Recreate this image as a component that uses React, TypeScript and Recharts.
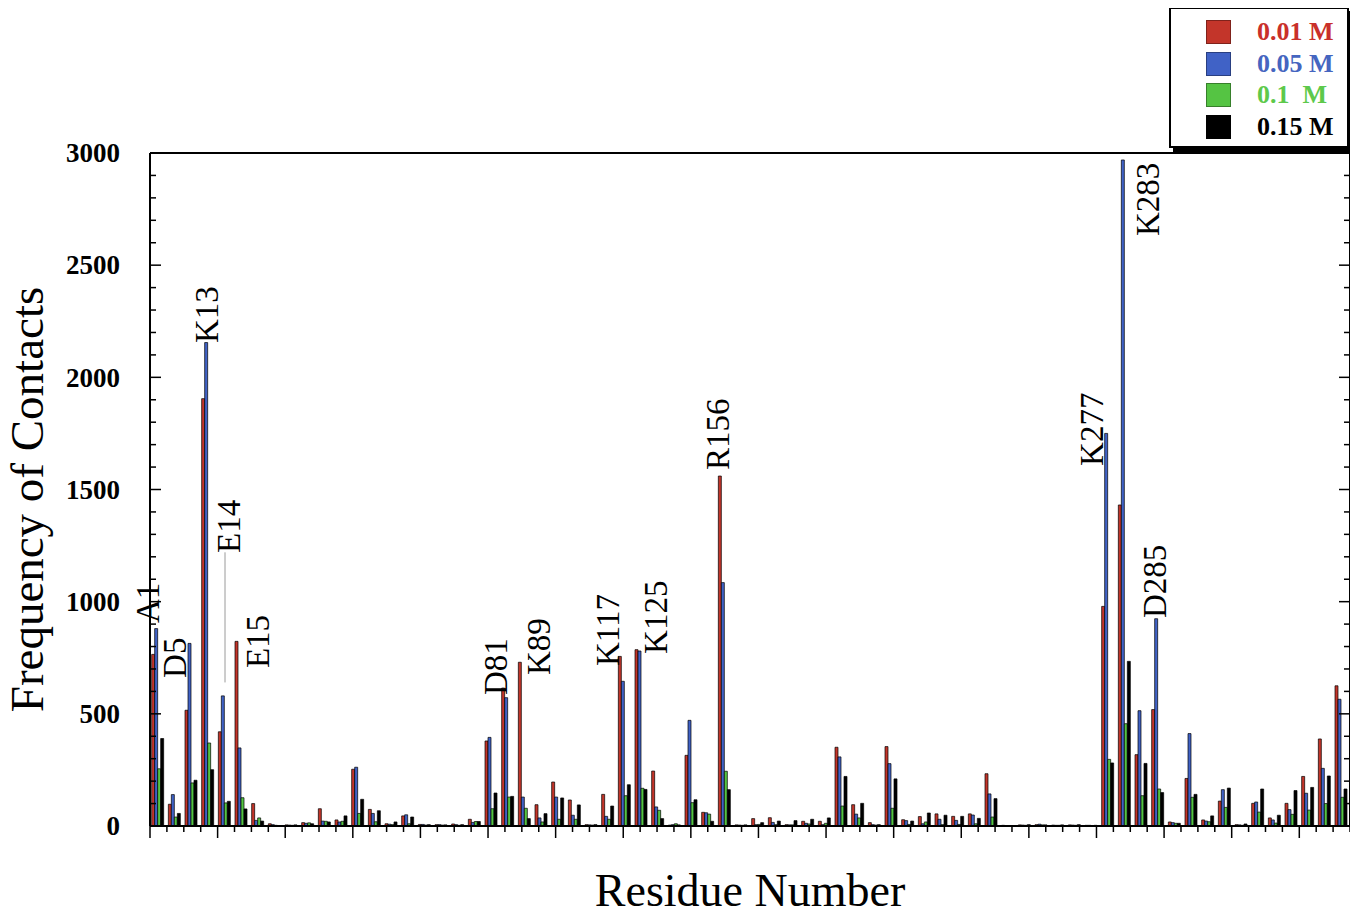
import {
  Bar,
  BarChart,
  Legend,
  ReferenceDot,
  ReferenceLine,
  XAxis,
  YAxis,
} from "recharts";

// residues that made contact (category order on the x axis)
const residues = [
  "A1", "#2", "D5", "K13", "E14", "E15", "#7", "#8", "#9", "#10", "#11", "#12",
  "#13", "#14", "#15", "#16", "#17", "#18", "#19", "#20", "#21", "D81", "K89", "#24",
  "#25", "#26", "#27", "#28", "K117", "K125", "#31", "#32", "#33", "#34", "R156", "#36",
  "#37", "#38", "#39", "#40", "#41", "#42", "#43", "#44", "#45", "#46", "#47", "#48",
  "#49", "#50", "#51", "#52", "#53", "#54", "#55", "#56", "#57", "K277", "K283", "#60",
  "D285", "#62", "#63", "#64", "#65", "#66", "#67", "#68", "#69", "#70", "#71", "#72",
];

const conc001 = [
  765, 97, 516, 1905, 420, 823, 100, 10, 5, 15, 77, 27,
  253, 74, 10, 45, 7, 6, 9, 30, 379, 615, 730, 95,
  196, 116, 6, 141, 756, 786, 245, 4, 315, 61, 1560, 5,
  33, 37, 6, 21, 21, 351, 95, 15, 354, 28, 42, 54,
  43, 54, 233, 3, 5, 6, 4, 5, 3, 979, 1431, 318,
  519, 18, 212, 27, 111, 6, 101, 36, 101, 221, 388, 625,
];
const conc005 = [
  880, 140, 814, 2155, 580, 348, 25, 6, 4, 12, 22, 18,
  262, 56, 8, 50, 7, 6, 6, 16, 395, 572, 129, 36,
  129, 48, 5, 43, 645, 780, 85, 6, 471, 59, 1085, 4,
  6, 16, 5, 12, 6, 308, 53, 6, 278, 24, 10, 30,
  25, 49, 143, 2, 4, 8, 3, 4, 3, 1750, 2969, 514,
  924, 15, 412, 22, 162, 5, 107, 27, 73, 146, 257, 565,
];
const conc01 = [
  255, 40, 192, 370, 103, 126, 36, 3, 3, 14, 21, 21,
  56, 19, 6, 10, 4, 4, 3, 20, 77, 129, 79, 18,
  30, 30, 4, 30, 135, 168, 70, 10, 104, 53, 244, 3,
  7, 6, 5, 9, 12, 89, 36, 4, 79, 7, 18, 6,
  7, 10, 40, 2, 3, 5, 3, 3, 2, 297, 456, 135,
  165, 12, 128, 19, 83, 3, 62, 13, 52, 71, 100, 128,
];
const conc015 = [
  390, 56, 204, 251, 110, 76, 22, 2, 5, 10, 18, 45,
  119, 68, 18, 40, 6, 5, 6, 20, 147, 132, 33, 55,
  125, 94, 6, 89, 184, 163, 33, 5, 117, 21, 162, 5,
  15, 22, 24, 30, 36, 221, 101, 6, 210, 22, 58, 48,
  43, 34, 122, 2, 6, 5, 5, 6, 3, 281, 734, 279,
  149, 12, 141, 45, 169, 9, 165, 48, 158, 172, 223, 165,
];

const seriesKeys = ["c1", "c2", "c3", "c4"];
const seriesNames = ["0.01 M", "0.05 M", "0.1  M", "0.15 M"];
const barColors = ["#c3352a", "#4062c6", "#55c443", "#000000"];
const legendText = ["#c9302a", "#4565c0", "#5dc94b", "#000000"];

// rotated residue annotations: category, value at text foot, x shift (px)
const annoNames = ["A1", "D5", "K13", "E14", "E15", "D81", "K89", "K117", "K125", "R156", "K277", "K283", "D285"];
const annoFoot = [905, 660, 2153, 1217, 704, 584, 673, 713, 767, 1587, 1605, 2630, 927];
const annoShift = [-10, -17, -1, 4, 16, -12, 14, -17, 14, -7, -16, 23, -3];

const data = residues.map((res, i) => ({
  res,
  c1: conc001[i],
  c2: conc005[i],
  c3: conc01[i],
  c4: conc015[i],
}));

const yMinor = Array.from({ length: 31 }, (_, i) => i * 100);
const xMinor = Array.from({ length: 145 }, (_, i) => i);

const SERIF = '"Liberation Serif", "Times New Roman", serif';

function LeftTick({ x, y, payload }: any) {
  const major = payload.value % 500 === 0;
  return (
    <g>
      <line x1={x} x2={x + (major ? 11 : 6)} y1={y} y2={y} stroke="#000" strokeWidth={1.5} />
      {major && (
        <text
          x={x - 30}
          y={y}
          dy="0.34em"
          textAnchor="end"
          fontFamily={SERIF}
          fontWeight="bold"
          fontSize={27}
          fill="#000"
        >
          {payload.value}
        </text>
      )}
    </g>
  );
}

function RightTick({ x, y, payload }: any) {
  const major = payload.value % 500 === 0;
  return <line x1={x} x2={x - (major ? 11 : 6)} y1={y} y2={y} stroke="#000" strokeWidth={1.5} />;
}

function BottomTick({ x, y, payload }: any) {
  const major = payload.value % 4 === 0;
  return <line x1={x} x2={x} y1={y} y2={y + (major ? 12 : 6)} stroke="#000" strokeWidth={1.5} />;
}

function annoLabel(name: string, shift: number) {
  return ({ viewBox }: any) => {
    const x = viewBox.x + viewBox.width / 2 + shift;
    const y = viewBox.y + viewBox.height / 2;
    return (
      <text
        x={x}
        y={y}
        dy="0.33em"
        transform={`rotate(-90 ${x} ${y})`}
        fontFamily={SERIF}
        fontSize={33}
        fill="#000"
      >
        {name}
      </text>
    );
  };
}

function LegendBox({ payload }: any) {
  return (
    <div
      style={{
        boxSizing: "border-box",
        width: 180,
        height: 141,
        border: "2px solid #000",
        boxShadow: "4px 4px 0 #000",
        background: "#fff",
        paddingTop: 7,
      }}
    >
      {(payload || []).map((p: any, i: number) => (
        <div key={p.value} style={{ display: "flex", alignItems: "center", height: 31.7 }}>
          <div
            style={{
              width: 25,
              height: 24,
              marginLeft: 35,
              background: p.color,
              border: "1px solid rgba(0,0,0,0.35)",
              boxSizing: "border-box",
            }}
          />
          <span
            style={{
              marginLeft: 26,
              fontFamily: SERIF,
              fontWeight: "bold",
              fontSize: 26,
              whiteSpace: "pre",
              color: legendText[i],
            }}
          >
            {p.value}
          </span>
        </div>
      ))}
    </div>
  );
}

export default function App() {
  return (
    <div style={{ position: "relative", margin: "-8px 0 0 -8px", width: 1358, height: 916, background: "#fff" }}>
      <BarChart
        width={1358}
        height={916}
        data={data}
        margin={{ top: 153, right: 7, bottom: 60, left: 90 }}
        barCategoryGap="10%"
        barGap={0}
      >
        <XAxis
          xAxisId="tk"
          type="number"
          domain={[0, 144]}
          allowDataOverflow
          ticks={xMinor}
          interval={0}
          height={30}
          tickSize={0}
          tickMargin={0}
          tickLine={false}
          tick={<BottomTick />}
          axisLine={{ stroke: "#000", strokeWidth: 2 }}
          label={({ viewBox }: any) => (
            <text
              x={viewBox.x + viewBox.width / 2}
              y={viewBox.y + 80}
              textAnchor="middle"
              fontFamily={SERIF}
              fontSize={46}
              fill="#000"
            >
              Residue Number
            </text>
          )}
        />
        <XAxis xAxisId="cat" dataKey="res" hide height={0} />
        <YAxis
          yAxisId="left"
          type="number"
          domain={[0, 3000]}
          allowDataOverflow
          ticks={yMinor}
          interval={0}
          width={60}
          tickSize={0}
          tickMargin={0}
          tickLine={false}
          tick={<LeftTick />}
          axisLine={{ stroke: "#000", strokeWidth: 2 }}
          label={({ viewBox }: any) => {
            const x = viewBox.x + viewBox.width - 107;
            const y = viewBox.y + viewBox.height / 2 + 10;
            return (
              <text
                x={x}
                y={y}
                transform={`rotate(-90 ${x} ${y})`}
                textAnchor="middle"
                fontFamily={SERIF}
                fontSize={47}
                fill="#000"
              >
                Frequency of Contacts
              </text>
            );
          }}
        />
        <YAxis
          yAxisId="right"
          orientation="right"
          type="number"
          domain={[0, 3000]}
          allowDataOverflow
          ticks={yMinor}
          interval={0}
          width={1}
          tickSize={0}
          tickMargin={0}
          tickLine={false}
          tick={<RightTick />}
          axisLine={{ stroke: "#000", strokeWidth: 2 }}
        />
        <ReferenceLine xAxisId="cat" yAxisId="left" y={3000} stroke="#000" strokeWidth={2} />
        {seriesKeys.map((k, i) => (
          <Bar
            key={k}
            xAxisId="cat"
            yAxisId="left"
            dataKey={k}
            name={seriesNames[i]}
            fill={barColors[i]}
            stroke="#000"
            strokeWidth={0.7}
            isAnimationActive={false}
          />
        ))}
        <ReferenceLine
          xAxisId="cat"
          yAxisId="left"
          segment={[
            { x: "E14", y: 1220 },
            { x: "E14", y: 640 },
          ]}
          stroke="#9a9a9a"
          strokeWidth={1}
        />
        {annoNames.map((name, i) => (
          <ReferenceDot
            key={name}
            xAxisId="cat"
            yAxisId="left"
            x={name}
            y={annoFoot[i]}
            r={0}
            fill="none"
            stroke="none"
            label={annoLabel(name, annoShift[i])}
          />
        ))}
        <Legend
          layout="horizontal"
          verticalAlign="middle"
          align="center"
          wrapperStyle={{ top: 7, left: 1169, width: 180, height: 141 }}
          content={<LegendBox />}
        />
      </BarChart>
    </div>
  );
}
